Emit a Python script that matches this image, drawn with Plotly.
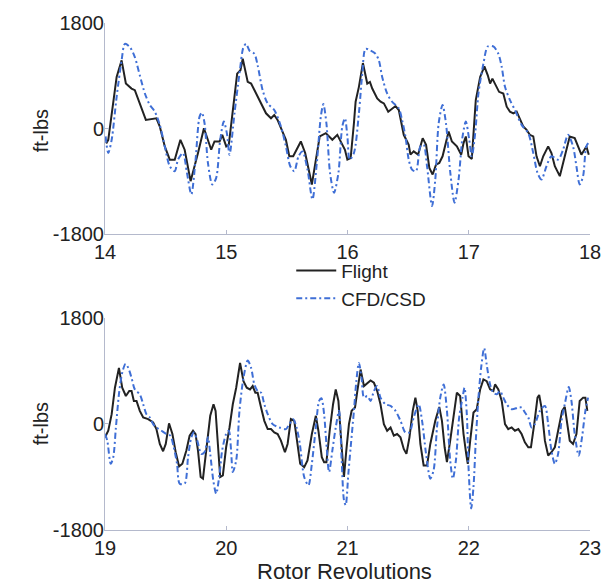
import plotly.graph_objects as go

# ---- data: (rotor revolution, ft-lbs) ----
flight_top = [
    (14.01, -250), (14.027, -189), (14.096, 882), (14.137, 1163), (14.172, 769), (14.219, 684),
    (14.246, 656), (14.287, 431), (14.337, 149), (14.424, 177), (14.452, 37), (14.493, -301),
    (14.534, -527), (14.575, -527), (14.622, -189), (14.657, -358), (14.706, -893), (14.767, -414),
    (14.816, 8), (14.876, -358), (14.903, -217), (14.945, -217), (14.967, -104), (15.0, -301),
    (15.021, -273), (15.090, 938), (15.117, 994), (15.136, 1191), (15.177, 797), (15.205, 769),
    (15.246, 600), (15.287, 459), (15.328, 262), (15.369, 177), (15.396, 234), (15.423, 149),
    (15.492, -189), (15.520, -470), (15.552, -470), (15.615, -217), (15.651, -414), (15.706, -950),
    (15.744, -499), (15.771, -132), (15.821, -76), (15.862, -161), (15.875, -189), (15.916, -104),
    (15.957, -273), (15.979, -358), (15.999, -527), (16.026, -499), (16.053, 93), (16.067, 459),
    (16.094, 713), (16.127, 1118), (16.163, 769), (16.185, 797), (16.204, 684), (16.245, 515),
    (16.273, 459), (16.300, 431), (16.336, 290), (16.368, 346), (16.396, 386), (16.423, 318),
    (16.464, -104), (16.505, -273), (16.519, -442), (16.546, -386), (16.582, -442), (16.620, -161),
    (16.648, -273), (16.675, -668), (16.702, -780), (16.730, -611), (16.757, -583), (16.784, -470),
    (16.812, -245), (16.834, -48), (16.861, -217), (16.902, -301), (16.938, -442), (16.957, -245),
    (16.976, -132), (16.998, -470), (17.025, -515), (17.058, 487), (17.094, 882), (17.129, 1062),
    (17.157, 909), (17.176, 769), (17.195, 853), (17.222, 741), (17.250, 628), (17.285, 600),
    (17.313, 375), (17.340, 290), (17.368, 262), (17.395, 290), (17.422, 177), (17.450, 37),
    (17.477, -20), (17.504, -104), (17.532, -132), (17.559, -470), (17.587, -639), (17.614, -470),
    (17.655, -301), (17.682, -414), (17.710, -639), (17.751, -808), (17.792, -470), (17.833, -132),
    (17.874, -161), (17.901, -301), (17.929, -442), (17.970, -301), (17.990, -442),
]

cfd_top = [
    (14.005, -132), (14.027, -414), (14.055, -189), (14.096, 544), (14.137, 1163), (14.164, 1445),
    (14.205, 1389), (14.246, 1220), (14.287, 909), (14.329, 600), (14.370, 403), (14.411, 290),
    (14.452, 65), (14.493, -301), (14.534, -639), (14.575, -724), (14.602, -527), (14.643, -414),
    (14.676, -752), (14.712, -1118), (14.747, -527), (14.780, 206), (14.799, 273), (14.821, 93),
    (14.849, -583), (14.885, -950), (14.917, -837), (14.950, -189), (14.980, 121), (15.005, -76),
    (15.027, -442), (15.068, 262), (15.109, 938), (15.142, 1389), (15.164, 1445), (15.191, 1332),
    (15.232, 1276), (15.259, 1079), (15.300, 656), (15.341, 431), (15.396, 318), (15.451, 37),
    (15.492, -301), (15.528, -639), (15.561, -724), (15.596, -470), (15.629, -386), (15.670, -696),
    (15.711, -1203), (15.747, -583), (15.780, 206), (15.801, 419), (15.826, 93), (15.856, -752),
    (15.889, -1090), (15.925, -752), (15.957, 37), (15.979, 177), (15.999, -132), (16.018, -527),
    (16.053, -414), (16.094, 262), (16.122, 938), (16.149, 1360), (16.190, 1332), (16.231, 1276),
    (16.259, 1163), (16.286, 882), (16.327, 600), (16.368, 459), (16.423, 346), (16.450, 149),
    (16.478, -132), (16.505, -527), (16.532, -696), (16.565, -724), (16.601, -301), (16.628, -273),
    (16.656, -639), (16.697, -1315), (16.724, -865), (16.752, 93), (16.784, 403), (16.812, 93),
    (16.848, -752), (16.883, -1259), (16.916, -865), (16.949, -132), (16.976, 121), (17.004, -189),
    (17.025, -470), (17.053, -76), (17.080, 600), (17.121, 1107), (17.157, 1400), (17.203, 1400),
    (17.244, 1276), (17.272, 1051), (17.299, 713), (17.340, 487), (17.381, 318), (17.436, 65),
    (17.491, -76), (17.532, -414), (17.567, -752), (17.600, -865), (17.641, -639), (17.682, -470),
    (17.737, -527), (17.778, -358), (17.819, -104), (17.860, -301), (17.888, -639), (17.915, -950),
    (17.943, -808), (17.970, -301), (17.997, -217),
]

flight_bot = [
    (19.000, -230), (19.027, -118), (19.055, 163), (19.082, 611), (19.115, 947), (19.142, 611),
    (19.172, 471), (19.200, 555), (19.219, 555), (19.238, 387), (19.260, 387), (19.287, 219),
    (19.315, 107), (19.356, 79), (19.397, 22), (19.424, -90), (19.452, -342), (19.479, -465),
    (19.501, -342), (19.528, 6), (19.556, -174), (19.583, -482), (19.611, -723), (19.638, -678),
    (19.671, -454), (19.698, -202), (19.726, -118), (19.747, -174), (19.767, -454), (19.789, -902),
    (19.808, -930), (19.835, -454), (19.868, 135), (19.895, 331), (19.912, 219), (19.931, -342),
    (19.950, -902), (19.972, -875), (19.999, -398), (20.027, -62), (20.054, 331), (20.082, 611),
    (20.114, 1031), (20.142, 723), (20.169, 611), (20.196, 583), (20.218, 639), (20.240, 527),
    (20.259, 527), (20.287, 275), (20.314, 50), (20.342, -90), (20.369, -90), (20.396, -146),
    (20.424, -174), (20.451, -286), (20.484, -482), (20.506, -342), (20.533, 79), (20.561, 50),
    (20.588, -342), (20.610, -678), (20.643, -734), (20.670, -622), (20.706, -174), (20.739, 135),
    (20.760, -118), (20.788, -566), (20.807, -650), (20.826, -650), (20.853, -118), (20.881, 331),
    (20.903, 583), (20.925, 387), (20.952, -398), (20.971, -902), (20.990, -454), (21.012, -6),
    (21.034, 219), (21.062, 275), (21.081, 555), (21.108, 919), (21.136, 639), (21.163, 695),
    (21.190, 734), (21.218, 695), (21.245, 555), (21.272, 331), (21.300, -6), (21.327, -118),
    (21.355, -62), (21.382, -202), (21.409, -174), (21.437, -230), (21.464, -426), (21.486, -510),
    (21.511, -230), (21.538, 219), (21.560, 443), (21.579, 219), (21.601, -342), (21.628, -706),
    (21.656, -706), (21.683, -342), (21.724, 50), (21.757, 286), (21.779, 50), (21.801, -398),
    (21.820, -650), (21.847, -286), (21.875, 135), (21.902, 527), (21.929, 471), (21.957, -174),
    (21.979, -510), (21.992, -678), (22.012, -286), (22.039, 191), (22.066, 247), (22.094, 583),
    (22.121, 751), (22.148, 723), (22.176, 583), (22.203, 555), (22.217, 667), (22.244, 583),
    (22.272, 387), (22.299, -6), (22.326, -90), (22.354, -62), (22.381, -118), (22.409, -90),
    (22.436, -174), (22.463, -314), (22.491, -398), (22.513, -398), (22.540, -6), (22.567, 443),
    (22.581, 488), (22.600, 275), (22.628, -286), (22.655, -538), (22.682, -482), (22.710, -398),
    (22.737, -118), (22.770, 219), (22.792, 286), (22.814, -6), (22.833, -286), (22.860, -342),
    (22.888, -174), (22.915, 387), (22.943, 443), (22.962, 443), (22.978, 219),
]

cfd_bot = [
    (19.000, -174), (19.019, -286), (19.047, -678), (19.068, -566), (19.090, -62), (19.118, 555),
    (19.145, 891), (19.170, 1015), (19.192, 947), (19.219, 779), (19.246, 583), (19.287, 499),
    (19.315, 331), (19.342, 163), (19.370, 107), (19.397, -6), (19.424, -62), (19.465, -118),
    (19.507, -174), (19.539, -202), (19.567, -398), (19.594, -678), (19.616, -1015), (19.657, -1015),
    (19.685, -566), (19.712, -230), (19.734, -146), (19.761, -286), (19.794, -510), (19.821, -482),
    (19.849, -230), (19.868, -510), (19.895, -987), (19.917, -1183), (19.945, -846), (19.966, -454),
    (19.999, -174), (20.021, -118), (20.040, -454), (20.054, -818), (20.082, -622), (20.109, 219),
    (20.142, 779), (20.177, 1071), (20.205, 947), (20.232, 667), (20.259, 555), (20.287, 527),
    (20.314, 331), (20.342, 163), (20.383, -6), (20.438, -62), (20.492, -90), (20.520, -6),
    (20.552, 79), (20.580, -62), (20.607, -342), (20.643, -902), (20.678, -1043), (20.706, -678),
    (20.739, -62), (20.766, 387), (20.785, 432), (20.807, 163), (20.826, -342), (20.848, -818),
    (20.875, -454), (20.903, -62), (20.930, 219), (20.952, -622), (20.971, -1295), (20.985, -1379),
    (21.007, -846), (21.026, -398), (21.053, 219), (21.073, 723), (21.094, 1031), (21.116, 779),
    (21.136, 443), (21.163, 471), (21.190, 387), (21.218, 555), (21.245, 639), (21.272, 443),
    (21.314, 331), (21.355, 303), (21.396, 219), (21.437, 50), (21.478, -146), (21.511, -146),
    (21.546, 107), (21.587, 331), (21.615, 50), (21.648, -510), (21.683, -930), (21.710, -790),
    (21.738, -62), (21.765, 443), (21.793, 667), (21.820, 219), (21.847, -622), (21.869, -930),
    (21.894, -622), (21.921, 107), (21.949, 443), (21.965, 611), (21.984, 163), (21.998, -734),
    (22.020, -1435), (22.039, -1071), (22.058, -286), (22.080, 443), (22.102, 947), (22.127, 1284),
    (22.148, 1004), (22.176, 667), (22.203, 527), (22.231, 499), (22.258, 555), (22.285, 443),
    (22.313, 331), (22.354, 247), (22.409, 275), (22.436, 275), (22.463, 191), (22.491, 107),
    (22.518, -62), (22.545, -6), (22.587, 219), (22.628, 303), (22.655, -6), (22.682, -454),
    (22.710, -678), (22.737, -510), (22.765, 50), (22.792, 331), (22.825, 622), (22.847, 387),
    (22.874, -174), (22.907, -538), (22.934, -230), (22.962, 219), (22.984, 443),
]

y_ticks = [-1800, 0, 1800]
y_tick_text = ["-1800", "0", "1800"]
x_ticks_top = [14, 15, 16, 17, 18]
x_ticks_bot = [19, 20, 21, 22, 23]

BLACK = "#222222"
BLUE = "#3f6fd6"
AXC = "#b4b9cc"
FONT = "Liberation Sans, Arial, sans-serif"


def xy(pairs):
    return [p[0] for p in pairs], [p[1] for p in pairs]


blue_line = dict(color=BLUE, width=2, dash="6px,3px,2px,3px", shape="spline", smoothing=0.8)
black_line = dict(color=BLACK, width=2)

fig = go.Figure()
fx, fy = xy(flight_top)
cx, cy = xy(cfd_top)
fig.add_trace(go.Scatter(x=fx, y=fy, mode="lines", name="Flight", line=black_line, xaxis="x", yaxis="y"))
fig.add_trace(go.Scatter(x=cx, y=cy, mode="lines", name="CFD/CSD", line=blue_line, xaxis="x", yaxis="y"))
fx, fy = xy(flight_bot)
cx, cy = xy(cfd_bot)
fig.add_trace(go.Scatter(x=fx, y=fy, mode="lines", name="Flight", showlegend=False, line=black_line,
                         xaxis="x2", yaxis="y2"))
fig.add_trace(go.Scatter(x=cx, y=cy, mode="lines", name="CFD/CSD", showlegend=False, line=blue_line,
                         xaxis="x2", yaxis="y2"))

axis_common = dict(showgrid=False, zeroline=False, showline=True, linecolor=AXC, linewidth=1,
                   ticks="inside", ticklen=4, tickcolor=AXC,
                   tickfont=dict(family=FONT, size=20, color=BLACK))

fig.update_layout(
    width=613, height=586,
    margin=dict(l=105, r=21, t=19, b=56),
    paper_bgcolor="white", plot_bgcolor="white",
    font=dict(family=FONT, size=20, color=BLACK),
    xaxis=dict(domain=[0, 1], range=[14, 18], tickvals=x_ticks_top, anchor="y", **axis_common),
    yaxis=dict(domain=[0.583, 1], range=[-1800, 1800], tickvals=y_ticks, ticktext=y_tick_text,
               anchor="x", ticklabelstandoff=-4, **axis_common),
    xaxis2=dict(domain=[0, 1], range=[19, 23], tickvals=x_ticks_bot, anchor="y2", **axis_common),
    yaxis2=dict(domain=[0, 0.419], range=[-1800, 1800], tickvals=y_ticks, ticktext=y_tick_text,
                anchor="x2", ticklabelstandoff=-4, **axis_common),
    legend=dict(x=0.384, y=0.549, xanchor="left", yanchor="top", bgcolor="rgba(0,0,0,0)",
                font=dict(family=FONT, size=19, color=BLACK), tracegroupgap=0, itemwidth=40),
    showlegend=True,
    annotations=[
        dict(text="ft-lbs", textangle=-90, xref="paper", yref="paper", x=-0.1314, y=0.787,
             xanchor="center", yanchor="middle", showarrow=False, font=dict(family=FONT, size=20, color=BLACK)),
        dict(text="ft-lbs", textangle=-90, xref="paper", yref="paper", x=-0.1314, y=0.209,
             xanchor="center", yanchor="middle", showarrow=False, font=dict(family=FONT, size=20, color=BLACK)),
        dict(text="Rotor Revolutions", xref="paper", yref="paper", x=0.493, y=-0.082,
             xanchor="center", yanchor="middle", showarrow=False, font=dict(family=FONT, size=22, color=BLACK)),
    ],
)

fig.write_html("out.html")
